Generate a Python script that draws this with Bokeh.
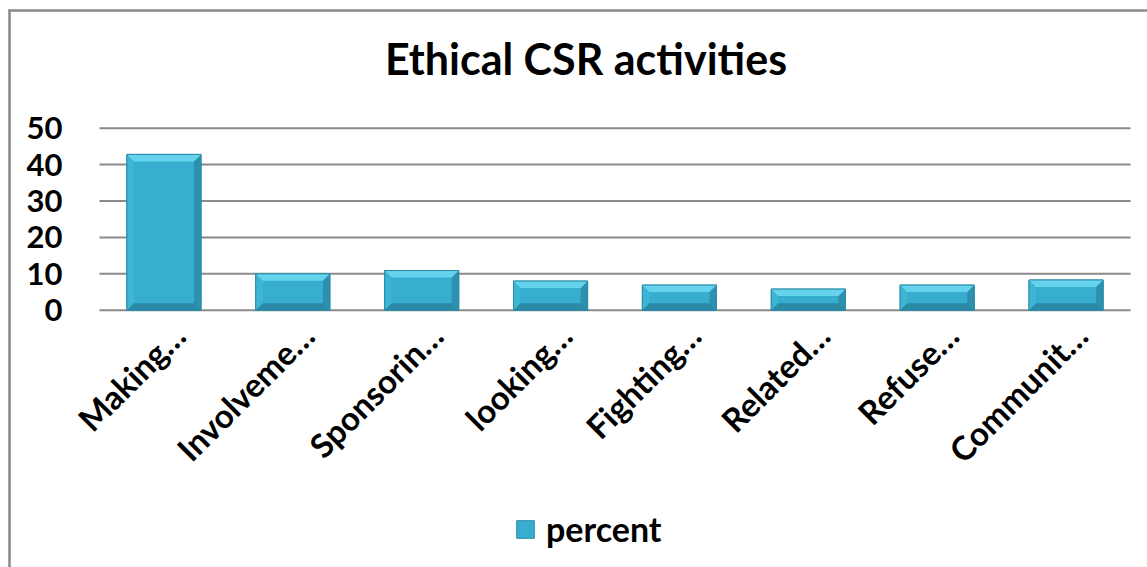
import math
from bokeh.plotting import figure
from bokeh.models import Range1d, FixedTicker, Legend, LegendItem, ColumnDataSource, Label
from bokeh.embed import file_html
from bokeh.resources import INLINE

categories = ["Making…", "Involveme…", "Sponsorin…", "looking…",
              "Fighting…", "Related…", "Refuse…", "Communit…"]
percent = [42.8, 10.0, 10.9, 8.0, 6.9, 5.8, 6.9, 8.3]
y_ticks = [0, 10, 20, 30, 40, 50]
title_text = "Ethical CSR activities"
series_name = "percent"

FONT = "Lato"
W, H = 1147, 567
n = len(categories)
xs = [i + 0.5 for i in range(n)]

# layout constants (window pixels)
PLOT_LEFT, PLOT_RIGHT = 99, 1130     # x of category axis start / end
ZERO_Y = 309.7                       # y of value 0
PX_PER_UNIT = 3.64                   # vertical pixels per percent
PX_PER_CAT = (PLOT_RIGHT - PLOT_LEFT) / n


def xd(px):
    return (px - PLOT_LEFT) / PX_PER_CAT


def yd(py):
    return (ZERO_Y - py) / PX_PER_UNIT


label_shift = 15 / PX_PER_CAT
tick_pos = [x + label_shift for x in xs]

p = figure(width=W, height=H, output_backend="svg", toolbar_location=None,
           title=None,
           x_range=Range1d(xd(0), xd(W)), y_range=Range1d(yd(H), yd(0)),
           min_border_left=0, min_border_right=0,
           min_border_top=0, min_border_bottom=0)
p.outline_line_color = None
p.background_fill_color = "white"
p.border_fill_color = "white"

# chart-area border (top and left edges visible in window)
p.segment(x0=[xd(8), xd(9)], y0=[yd(10), yd(9)], x1=[xd(W + 5), xd(9)], y1=[yd(10), yd(H + 5)],
          line_color="#898989", line_width=2.5)

# gridlines over the category span
p.segment(x0=[0] * len(y_ticks), x1=[n] * len(y_ticks), y0=y_ticks, y1=y_ticks,
          line_color="#8a8a8a", line_width=2)

# title
p.add_layout(Label(x=xd(585.5), y=yd(58),
                   text=title_text, text_align="center", text_baseline="alphabetic",
                   text_font=FONT, text_font_size="43px", text_font_style="bold",
                   text_color="black"))

# bars
bw = 0.575
bx = 7 / PX_PER_CAT
by = 7 / PX_PER_UNIT
src = ColumnDataSource(dict(x=xs, top=percent))
r = p.vbar(x="x", top="top", width=bw, source=src,
           fill_color="#37aed0", line_color="#2a8ba7", line_width=1)

tops_x, tops_y, lefts_x, lefts_y, rights_x, rights_y, bots_x, bots_y = ([] for _ in range(8))
for c, v in zip(xs, percent):
    L, R = c - bw / 2, c + bw / 2
    tops_x.append([L, R, R - bx, L + bx]); tops_y.append([v, v, v - by, v - by])
    lefts_x.append([L, L + bx, L + bx, L]); lefts_y.append([v, v - by, by, 0])
    rights_x.append([R, R, R - bx, R - bx]); rights_y.append([v, 0, by, v - by])
    bots_x.append([L, R, R - bx, L + bx]); bots_y.append([0, 0, by, by])
p.patches(lefts_x, lefts_y, fill_color="#3db6d6", line_color=None)
p.patches(rights_x, rights_y, fill_color="#2c90ae", line_color=None)
p.patches(bots_x, bots_y, fill_color="#2b89a5", line_color=None)
p.patches(tops_x, tops_y, fill_color="#66d3ec", line_color=None)
p.vbar(x=xs, top=percent, width=bw, fill_color=None, line_color="#2a8ba7", line_width=1)

# axes
p.xaxis.fixed_location = 0
p.xaxis.ticker = FixedTicker(ticks=tick_pos)
p.xaxis.major_label_overrides = {t: c for t, c in zip(tick_pos, categories)}
p.xaxis.major_label_orientation = math.pi / 4
p.xaxis.axis_line_color = None
p.xaxis.major_tick_line_color = None
p.xaxis.minor_tick_line_color = None
p.xaxis.major_label_text_font = FONT
p.xaxis.major_label_text_font_size = "33px"
p.xaxis.major_label_text_font_style = "bold"
p.xaxis.major_label_text_color = "black"
p.xaxis.major_label_standoff = 13

p.yaxis.fixed_location = 0
p.yaxis.ticker = FixedTicker(ticks=y_ticks)
p.yaxis.axis_line_color = None
p.yaxis.major_tick_line_color = None
p.yaxis.minor_tick_line_color = None
p.yaxis.major_tick_out = 0
p.yaxis.major_label_text_font = FONT
p.yaxis.major_label_text_font_size = "31px"
p.yaxis.major_label_text_font_style = "bold"
p.yaxis.major_label_text_color = "black"
p.yaxis.major_label_standoff = 37

p.grid.grid_line_color = None

legend = Legend(items=[LegendItem(label=series_name, renderers=[r])],
                location=(514, H - 549), orientation="horizontal",
                glyph_width=22, glyph_height=22, label_height=22,
                label_text_font=FONT, label_text_font_size="34px",
                label_text_font_style="bold", label_text_color="black",
                label_standoff=10, border_line_color=None,
                background_fill_alpha=0, padding=0, margin=0)
p.add_layout(legend)

open("out.html", "w").write(file_html(p, INLINE))
